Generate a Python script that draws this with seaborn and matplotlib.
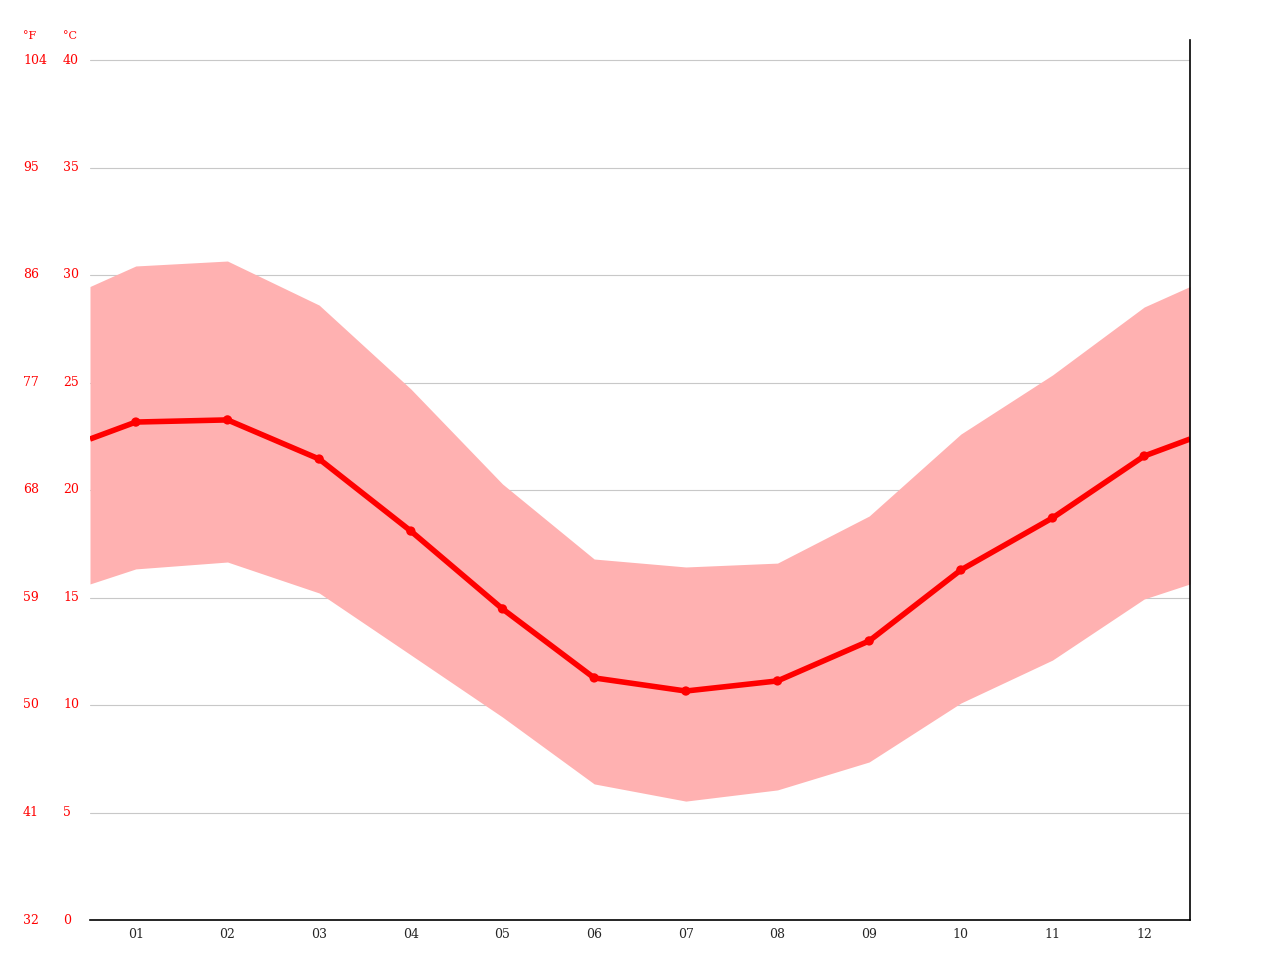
import numpy as np
import pandas as pd
import matplotlib
matplotlib.use("Agg")
import matplotlib.pyplot as plt
import seaborn as sns

# ---- data (degrees C) ----
months = ["01", "02", "03", "04", "05", "06", "07", "08", "09", "10", "11", "12"]
t_mean = [23.16, 23.26, 21.44, 18.09, 14.47, 11.26, 10.65, 11.12, 12.98, 16.28, 18.70, 21.58]
t_max = [30.42, 30.65, 28.60, 24.70, 20.28, 16.79, 16.42, 16.60, 18.79, 22.60, 25.35, 28.51]
t_min = [16.33, 16.65, 15.21, 12.33, 9.44, 6.33, 5.53, 6.05, 7.35, 10.09, 12.09, 14.93]
c_ticks = [0, 5, 10, 15, 20, 25, 30, 35, 40]
f_ticks = [32, 41, 50, 59, 68, 77, 86, 95, 104]

# wrap the year so the band runs to both edges
x = np.arange(1, 13)
def wrap(v):
    edge = (v[0] + v[-1]) / 2
    return np.r_[0.5, x, 12.5], np.r_[edge, v, edge]

xs, ymean = wrap(np.array(t_mean))
_, ymax = wrap(np.array(t_max))
_, ymin = wrap(np.array(t_min))
df = pd.DataFrame({"month": x, "mean": t_mean})

sns.set_style("white")
fig = plt.figure(figsize=(12.8, 9.6), dpi=100)
ax = fig.add_axes([90 / 1280, 40 / 960, 1100 / 1280, 880 / 960])

top = 880 / 21.5
ax.set_xlim(0.5, 12.5)
ax.set_ylim(0, top)

for c in c_ticks[1:]:
    ax.axhline(c, color="#c8c8c8", lw=0.8, zorder=0)

ax.fill_between(xs, ymin, ymax, color="#ffb1b1", lw=0, zorder=1)
ax.plot(xs, ymean, color="#ff0000", lw=4, zorder=2, solid_capstyle="butt")
sns.scatterplot(data=df, x="month", y="mean", color="#ff0000", s=45,
                edgecolor="none", zorder=3, ax=ax, legend=False)

for s in ["top", "left"]:
    ax.spines[s].set_visible(False)
for s in ["bottom", "right"]:
    ax.spines[s].set_color("black")
    ax.spines[s].set_linewidth(1.2)

ax.set_yticks([])
ax.set_xticks(x)
ax.set_xticklabels(months, fontsize=9, family="DejaVu Serif")
ax.set_xticks(np.arange(0.5, 13), minor=True)
ax.tick_params(axis="x", which="major", length=0, pad=6)
ax.tick_params(axis="x", which="minor", length=4, color="black", direction="out")
ax.set_xlabel("")
ax.set_ylabel("")

# temperature labels on the left, both scales
for c, f in zip(c_ticks, f_ticks):
    ypx = 920 - c * 21.5
    fig.text(23 / 1280, 1 - ypx / 960, str(f), color="#ff0000", fontsize=9,
             family="DejaVu Serif", va="center", ha="left")
    fig.text(63 / 1280, 1 - ypx / 960, str(c), color="#ff0000", fontsize=9,
             family="DejaVu Serif", va="center", ha="left")
fig.text(23 / 1280, 1 - 36 / 960, "°F", color="#ff0000", fontsize=8,
         family="DejaVu Serif", va="center", ha="left")
fig.text(63 / 1280, 1 - 36 / 960, "°C", color="#ff0000", fontsize=8,
         family="DejaVu Serif", va="center", ha="left")

fig.savefig("out.png", dpi=100)
